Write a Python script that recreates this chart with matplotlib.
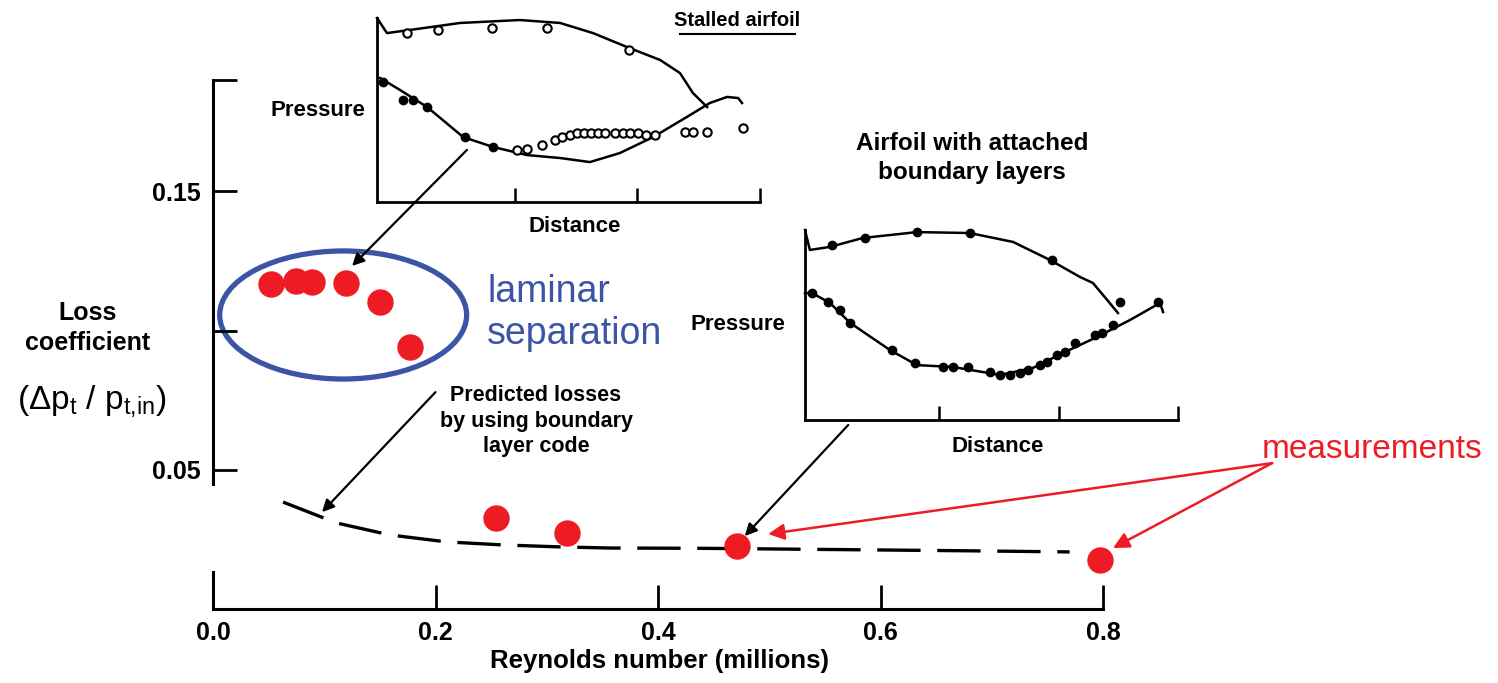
import matplotlib.pyplot as plt
from matplotlib.patches import Ellipse
from matplotlib.lines import Line2D

plt.rcParams.update({
    "font.family": "Liberation Sans",
    "mathtext.fontset": "custom",
    "mathtext.rm": "Liberation Sans",
    "mathtext.it": "Liberation Sans:italic",
    "mathtext.bf": "Liberation Sans:bold",
})

RED = "#ED1C24"
BLUE = "#3B54A4"

# measured loss coefficient vs Reynolds number (millions)
re_meas = [0.052, 0.0746, 0.089, 0.1196, 0.150, 0.177, 0.254, 0.318, 0.471, 0.797]
loss_meas = [0.1167, 0.1178, 0.1175, 0.1171, 0.1103, 0.0941, 0.0327, 0.0273, 0.0226, 0.0176]

# predicted losses, boundary layer code
re_pred = [0.063, 0.111, 0.159, 0.210, 0.261, 0.312, 0.357, 0.438, 0.52, 0.60, 0.68, 0.77]
loss_pred = [0.0384, 0.0309, 0.0266, 0.0241, 0.0230, 0.0223, 0.0219, 0.0218, 0.0215, 0.0212, 0.0209, 0.0205]

x_ticks = [0.0, 0.2, 0.4, 0.6, 0.8]
x_ticklabels = ["0.0", "0.2", "0.4", "0.6", "0.8"]
y_ticks = [0.05, 0.10, 0.15, 0.19]
y_ticklabels = ["0.05", "", "0.15", ""]

# stalled airfoil pressure distribution (distance, pressure; normalised)
st_up_d = [0.0, 0.026, 0.086, 0.217, 0.373, 0.478, 0.564, 0.653, 0.739, 0.791, 0.825, 0.862]
st_up_p = [1.0, 0.918, 0.935, 0.973, 0.989, 0.973, 0.918, 0.842, 0.772, 0.701, 0.592, 0.516]
st_up_pts_d = [0.078, 0.159, 0.300, 0.444, 0.658]
st_up_pts_p = [0.918, 0.935, 0.946, 0.946, 0.826]
st_lo_d = [0.008, 0.060, 0.131, 0.225, 0.303, 0.392, 0.478, 0.556, 0.634, 0.721, 0.809, 0.869, 0.914, 0.943, 0.953]
st_lo_p = [0.674, 0.609, 0.516, 0.353, 0.299, 0.255, 0.239, 0.217, 0.266, 0.353, 0.462, 0.538, 0.571, 0.565, 0.538]
st_lo_fill_d = [0.016, 0.068, 0.094, 0.131, 0.230, 0.303]
st_lo_fill_p = [0.652, 0.554, 0.554, 0.516, 0.353, 0.299]
st_lo_open_d = [0.366, 0.392, 0.431, 0.465, 0.483, 0.504, 0.522, 0.540, 0.559, 0.577, 0.595,
                0.621, 0.642, 0.661, 0.681, 0.702, 0.726, 0.804, 0.825, 0.862, 0.956]
st_lo_open_p = [0.283, 0.288, 0.310, 0.337, 0.353, 0.364, 0.375, 0.375, 0.375, 0.375, 0.375,
                0.375, 0.375, 0.375, 0.375, 0.364, 0.364, 0.380, 0.380, 0.380, 0.402]

# attached boundary layer pressure distribution
at_up_d = [0.0, 0.013, 0.067, 0.155, 0.300, 0.442, 0.558, 0.657, 0.737, 0.772, 0.810, 0.839]
at_up_p = [1.0, 0.895, 0.911, 0.958, 0.989, 0.984, 0.937, 0.842, 0.753, 0.721, 0.632, 0.563]
at_up_pts_d = [0.072, 0.161, 0.300, 0.442, 0.662, 0.845]
at_up_pts_p = [0.921, 0.958, 0.989, 0.984, 0.842, 0.621]
at_lo_d = [0.0, 0.019, 0.067, 0.121, 0.228, 0.300, 0.397, 0.523, 0.611, 0.692, 0.783, 0.871, 0.952, 0.960]
at_lo_p = [0.668, 0.668, 0.616, 0.511, 0.368, 0.289, 0.279, 0.237, 0.274, 0.353, 0.437, 0.526, 0.616, 0.568]
at_lo_pts_d = [0.019, 0.062, 0.094, 0.121, 0.233, 0.295, 0.370, 0.397, 0.437, 0.496, 0.523, 0.550,
               0.576, 0.598, 0.630, 0.649, 0.676, 0.697, 0.724, 0.777, 0.796, 0.826, 0.946]
at_lo_pts_p = [0.668, 0.621, 0.579, 0.511, 0.368, 0.300, 0.279, 0.279, 0.279, 0.253, 0.237, 0.237,
               0.247, 0.263, 0.289, 0.305, 0.342, 0.358, 0.405, 0.447, 0.458, 0.500, 0.621]
dist_ticks = [0.36, 0.68, 1.0]

W, H = 1498, 683


def fx(x):
    return x / W


def fy(y):
    return 1 - y / H


fig = plt.figure(figsize=(W / 100, H / 100), dpi=100)

# main axes
ax = fig.add_axes([fx(213), fy(609), fx(1103) - fx(213), fy(80) - fy(609)])
ax.set_xlim(0, 0.8)
ax.set_ylim(0, 0.19)
ax.spines["top"].set_visible(False)
ax.spines["right"].set_visible(False)
ax.spines["left"].set_bounds(0.045, 0.19)
for s in ("left", "bottom"):
    ax.spines[s].set_linewidth(2.2)
ax.axvline(0, 0, 0.07, color="k", lw=2.2, clip_on=False)
ax.set_xticks(x_ticks)
ax.set_xticklabels(x_ticklabels, fontsize=18, fontweight="bold")
ax.set_yticks(y_ticks)
ax.set_yticklabels(y_ticklabels, fontsize=18, fontweight="bold")
ax.tick_params(direction="in", length=17, width=2, pad=9)

ax.plot(re_pred, loss_pred, color="k", lw=2.4, dashes=(13, 5), solid_capstyle="butt")
ax.plot(re_meas, loss_meas, "o", color=RED, ms=18, mec=RED, ls="none", clip_on=False, zorder=5)

ax.add_patch(Ellipse((0.117, 0.1056), 0.222, 0.046, fill=False, ec=BLUE, lw=3.8, clip_on=False))

black_arrow = dict(arrowstyle="-|>", color="k", lw=1.6, mutation_scale=18, shrinkA=0, shrinkB=0)
red_arrow = dict(arrowstyle="-|>", color=RED, lw=1.8, mutation_scale=24, shrinkA=0, shrinkB=0)
ax.annotate("", xy=(0.125, 0.1232), xytext=(0.2283, 0.1649), arrowprops=black_arrow, annotation_clip=False)
ax.annotate("", xy=(0.098, 0.0348), xytext=(0.200, 0.0779), arrowprops=black_arrow, annotation_clip=False)
ax.annotate("", xy=(0.478, 0.0262), xytext=(0.571, 0.0661), arrowprops=black_arrow, annotation_clip=False)
ax.annotate("", xy=(0.499, 0.0269), xytext=(0.952, 0.0524), arrowprops=red_arrow, annotation_clip=False)
ax.annotate("", xy=(0.809, 0.0219), xytext=(0.952, 0.0524), arrowprops=red_arrow, annotation_clip=False)

# axis labels
fig.text(fx(88), fy(328), "Loss\ncoefficient", ha="center", va="center",
         fontsize=18, fontweight="bold", linespacing=1.35)
fig.text(fx(92), fy(401), r"($\Delta$p$_{\mathrm{t}}$ / p$_{\mathrm{t{,}in}}$)",
         ha="center", va="center", fontsize=24)
fig.text(fx(659), fy(661), "Reynolds number (millions)", ha="center", va="center",
         fontsize=18.5, fontweight="bold")

fig.text(fx(536), fy(421), "Predicted losses\nby using boundary\nlayer code", ha="center", va="center",
         fontsize=15.5, fontweight="bold", linespacing=1.3)
fig.text(fx(487), fy(313), "laminar\nseparation", ha="left", va="center",
         fontsize=27, color=BLUE, linespacing=1.2)
fig.text(fx(1262), fy(450), "measurements", ha="left", va="center", fontsize=24, color=RED)


def inset(rect):
    a = fig.add_axes(rect)
    a.set_xlim(0, 1)
    a.set_ylim(0, 1)
    a.set_facecolor("none")
    a.spines["top"].set_visible(False)
    a.spines["right"].set_visible(False)
    for s in ("left", "bottom"):
        a.spines[s].set_linewidth(2)
    a.set_xticks(dist_ticks)
    a.set_xticklabels([])
    a.set_yticks([])
    a.tick_params(direction="in", length=10, width=1.8)
    return a


# stalled airfoil inset
ax1 = inset([fx(377), fy(202), fx(760) - fx(377), fy(18) - fy(202)])
ax1.plot(st_up_d, st_up_p, "k-", lw=1.8, clip_on=False)
ax1.plot(st_lo_d, st_lo_p, "k-", lw=1.8, clip_on=False)
ax1.plot(st_up_pts_d, st_up_pts_p, "o", mfc="white", mec="k", ms=6, mew=1.5, ls="none", clip_on=False)
ax1.plot(st_lo_fill_d, st_lo_fill_p, "o", color="k", ms=6, ls="none", clip_on=False)
ax1.plot(st_lo_open_d, st_lo_open_p, "o", mfc="white", mec="k", ms=6, mew=1.5, ls="none", clip_on=False)
fig.text(fx(318), fy(110), "Pressure", ha="center", va="center", fontsize=16, fontweight="bold")
fig.text(fx(575), fy(226), "Distance", ha="center", va="center", fontsize=16, fontweight="bold")
fig.text(fx(737), fy(21), "Stalled airfoil", ha="center", va="center", fontsize=14.5, fontweight="bold")
fig.add_artist(Line2D([fx(680), fx(795)], [fy(34), fy(34)], color="k", lw=1.5))

# attached boundary layer inset
ax2 = inset([fx(805), fy(420), fx(1178) - fx(805), fy(230) - fy(420)])
ax2.plot(at_up_d, at_up_p, "k-", lw=1.8, clip_on=False)
ax2.plot(at_lo_d, at_lo_p, "k-", lw=1.8, clip_on=False)
ax2.plot(at_up_pts_d, at_up_pts_p, "o", color="k", ms=6, ls="none", clip_on=False)
ax2.plot(at_lo_pts_d, at_lo_pts_p, "o", color="k", ms=6, ls="none", clip_on=False)
fig.text(fx(738), fy(325), "Pressure", ha="center", va="center", fontsize=16, fontweight="bold")
fig.text(fx(998), fy(447), "Distance", ha="center", va="center", fontsize=16, fontweight="bold")
fig.text(fx(972), fy(158), "Airfoil with attached\nboundary layers", ha="center", va="center",
         fontsize=17.5, fontweight="bold", linespacing=1.3)

fig.savefig("out.png", dpi=100)
